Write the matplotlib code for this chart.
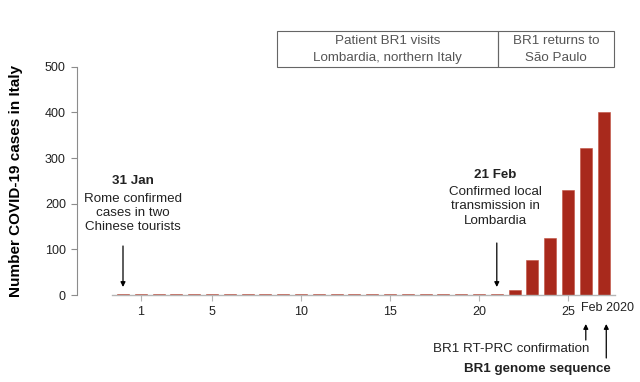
import matplotlib
matplotlib.use("Agg")
import matplotlib.pyplot as plt
from matplotlib.patches import Rectangle

plt.rcParams['font.family'] = ['Liberation Sans', 'DejaVu Sans']

# days counted from 31 Jan (0) to 27 Feb (27)
days = list(range(0, 28))
cases = [2, 2, 2, 2, 2, 2, 2, 3, 3, 3, 3, 3, 3, 3, 3, 3, 3, 3, 3, 3, 3, 3,
         12, 76, 125, 230, 323, 400]
tick_days = [1, 5, 10, 15, 20, 25]
tick_labels = ['1', '5', '10', '15', '20', '25']
y_ticks = [0, 100, 200, 300, 400, 500]

bar_col = '#a8291c'
grey = '#8c8c8c'
txt = '#222222'
fs = 9.6

fig = plt.figure(figsize=(6.4, 3.82), dpi=100)
ax = fig.add_axes([77/640, 87/382, 548/640, 228.3/382])
ax.bar(days, cases, width=0.68, color=bar_col, edgecolor='#c0503f', linewidth=0.4)
ax.set_xlim((77-123)/17.8, (625-123)/17.8)
ax.set_ylim(0, 500)

for s in ['top', 'right']:
    ax.spines[s].set_visible(False)
ax.spines['left'].set_color(grey)
ax.spines['left'].set_linewidth(0.8)
ax.spines['left'].set_bounds(0, 500)
ax.spines['bottom'].set_color('#b5b5b5')
ax.spines['bottom'].set_linewidth(1.0)
ax.spines['bottom'].set_bounds(-0.63, 27.64)
ax.set_yticks(y_ticks)
ax.set_yticklabels([str(v) for v in y_ticks])
ax.set_xticks(tick_days)
ax.set_xticklabels(tick_labels)
ax.tick_params(axis='y', colors=grey, labelcolor=txt, labelsize=9, length=4, width=0.8, pad=4)
ax.tick_params(axis='x', colors='#b5b5b5', labelcolor=txt, labelsize=9, length=4, width=0.8, pad=4)
ax.text(27.2, -16, 'Feb 2020', ha='center', va='top', fontsize=9, color=txt)

ax.set_ylabel('Number COVID-19 cases in Italy', fontsize=11, fontweight='bold', labelpad=16)

def py(ypx):
    # figure pixel row -> data y
    return (295 - ypx) * 500 / 228.3

# top boxes
boxes = [(8.65, 21.07, ['Patient BR1 visits', 'Lombardia, northern Italy']),
         (21.07, 27.58, ['BR1 returns to', 'São Paulo'])]
for x0, x1, lines in boxes:
    ax.add_patch(Rectangle((x0, 500), x1 - x0, py(31.5) - 500, fill=False,
                           edgecolor='#666666', linewidth=0.8, clip_on=False))
    ax.text((x0 + x1) / 2, py(41.5), lines[0], ha='center', va='center', fontsize=fs, color='#555555')
    ax.text((x0 + x1) / 2, py(58.5), lines[1], ha='center', va='center', fontsize=fs, color='#555555')

# event annotations
ax.text(0.55, py(181.5), '31 Jan', ha='center', va='center', fontsize=fs, fontweight='bold', color=txt)
ax.text(0.55, py(213), 'Rome confirmed\ncases in two\nChinese tourists', ha='center', va='center',
        fontsize=fs, color=txt, linespacing=1.25)
ax.text(20.9, py(175), '21 Feb', ha='center', va='center', fontsize=fs, fontweight='bold', color=txt)
ax.text(20.9, py(206.5), 'Confirmed local\ntransmission in\nLombardia', ha='center', va='center',
        fontsize=fs, color=txt, linespacing=1.25)

arrow = dict(arrowstyle='-|>', color='black', lw=0.9, mutation_scale=7, shrinkA=0, shrinkB=0)
ax.annotate('', xy=(0, py(287)), xytext=(0, py(246)), arrowprops=arrow, annotation_clip=False)
ax.annotate('', xy=(21, py(287)), xytext=(21, py(243)), arrowprops=arrow, annotation_clip=False)
ax.annotate('', xy=(26, py(324)), xytext=(26, py(340)), arrowprops=arrow, annotation_clip=False)
ax.annotate('', xy=(27.15, py(324)), xytext=(27.15, py(358)), arrowprops=arrow, annotation_clip=False)
ax.text(26.2, py(349), 'BR1 RT-PRC confirmation', ha='right', va='center', fontsize=fs, color=txt)
ax.text(27.4, py(369), 'BR1 genome sequence', ha='right', va='center', fontsize=fs,
        fontweight='bold', color=txt)

fig.savefig('out.png', dpi=100)
